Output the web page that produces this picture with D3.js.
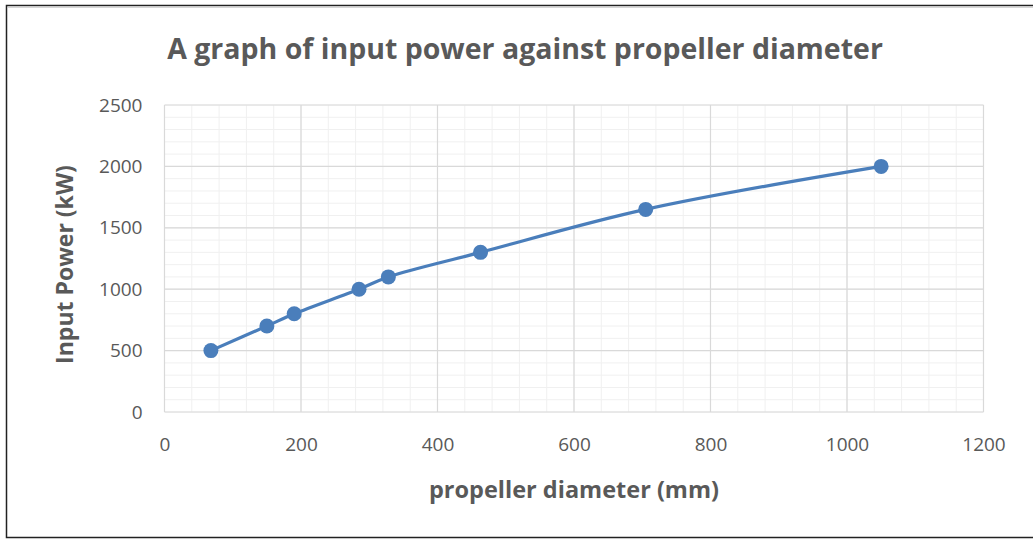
<!DOCTYPE html>
<html>
<head>
<meta charset="utf-8">
<script src="https://cdn.jsdelivr.net/npm/d3@7"></script>
<style>
  html, body { margin: 0; padding: 0; background: #fff; }
  svg { display: block; }
  text { font-family: "Open Sans", sans-serif; fill: #595959; }
</style>
</head>
<body>
<div id="chart"></div>
<script>
// propeller diameter (mm) vs input power (kW)
const diameters = [68, 150, 190, 285, 328, 463, 705, 1050];
const powers = [500, 700, 800, 1000, 1100, 1300, 1650, 2000];
const xTicks = [0, 200, 400, 600, 800, 1000, 1200];
const yTicks = [0, 500, 1000, 1500, 2000, 2500];

const width = 1033, height = 540;
const margin = { left: 164.5, right: 1033 - 983.5, top: 105, bottom: 540 - 412 };

const svg = d3.select('#chart').append('svg')
  .attr('width', width)
  .attr('height', height);

// frame
svg.append('rect')
  .attr('x', 6.5).attr('y', 5.5)
  .attr('width', width).attr('height', 532)
  .attr('fill', 'white')
  .attr('stroke', '#222')
  .attr('stroke-width', 1.5);
svg.append('line')
  .attr('x1', 8).attr('x2', width).attr('y1', 7).attr('y2', 7)
  .attr('stroke', '#c8c8c8').attr('stroke-width', 1.5);

const x = d3.scaleLinear().domain([0, 1200]).range([margin.left, width - margin.right]);
const y = d3.scaleLinear().domain([0, 2500]).range([height - margin.bottom, margin.top]);

const grid = svg.append('g');
// minor grid
grid.selectAll('.vminor')
  .data(d3.range(0, 1201, 40))
  .enter().append('line')
  .attr('x1', d => x(d)).attr('x2', d => x(d))
  .attr('y1', y(0)).attr('y2', y(2500))
  .attr('stroke', '#f0f0f0').attr('stroke-width', 1);
grid.selectAll('.hminor')
  .data(d3.range(0, 2501, 100))
  .enter().append('line')
  .attr('x1', x(0)).attr('x2', x(1200))
  .attr('y1', d => y(d)).attr('y2', d => y(d))
  .attr('stroke', '#f0f0f0').attr('stroke-width', 1);
// major grid
grid.selectAll('.vmajor')
  .data(xTicks)
  .enter().append('line')
  .attr('x1', d => x(d)).attr('x2', d => x(d))
  .attr('y1', y(0)).attr('y2', y(2500))
  .attr('stroke', '#d9d9d9').attr('stroke-width', 1.2);
grid.selectAll('.hmajor')
  .data(yTicks)
  .enter().append('line')
  .attr('x1', x(0)).attr('x2', x(1200))
  .attr('y1', d => y(d)).attr('y2', d => y(d))
  .attr('stroke', '#d9d9d9').attr('stroke-width', 1.2);

// axes
const xAxis = svg.append('g')
  .attr('transform', `translate(0,${y(0)})`)
  .call(d3.axisBottom(x).tickValues(xTicks).tickFormat(d3.format('d')).tickSize(0).tickPadding(26));
const yAxis = svg.append('g')
  .attr('transform', `translate(${x(0)},0)`)
  .call(d3.axisLeft(y).tickValues(yTicks).tickFormat(d3.format('d')).tickSize(0).tickPadding(22));
[xAxis, yAxis].forEach(a => {
  a.select('.domain').remove();
  a.selectAll('text')
    .style('font-family', '"Open Sans", sans-serif')
    .style('font-size', '19px')
    .style('fill', '#595959');
});

// series
const pts = diameters.map((d, i) => [d, powers[i]]);
const line = d3.line()
  .x(d => x(d[0]))
  .y(d => y(d[1]))
  .curve(d3.curveCatmullRom.alpha(0.5));

svg.append('path')
  .datum(pts)
  .attr('d', line)
  .attr('fill', 'none')
  .attr('stroke', '#4a7ebb')
  .attr('stroke-width', 3.2);

svg.selectAll('circle')
  .data(pts)
  .enter().append('circle')
  .attr('cx', d => x(d[0]))
  .attr('cy', d => y(d[1]))
  .attr('r', 7.5)
  .attr('fill', '#4a7ebb');

// titles
svg.append('text')
  .attr('x', 525).attr('y', 59)
  .attr('text-anchor', 'middle')
  .attr('font-size', '28.5px')
  .attr('font-weight', 'bold')
  .text('A graph of input power against propeller diameter');

svg.append('text')
  .attr('x', (x(0) + x(1200)) / 2).attr('y', 498)
  .attr('text-anchor', 'middle')
  .attr('font-size', '23.5px')
  .attr('font-weight', 'bold')
  .text('propeller diameter (mm)');

svg.append('text')
  .attr('transform', `translate(73,${(y(0) + y(2500)) / 2 + 6}) rotate(-90)`)
  .attr('text-anchor', 'middle')
  .attr('font-size', '23px')
  .attr('font-weight', 'bold')
  .text('Input Power (kW)');
</script>
</body>
</html>
